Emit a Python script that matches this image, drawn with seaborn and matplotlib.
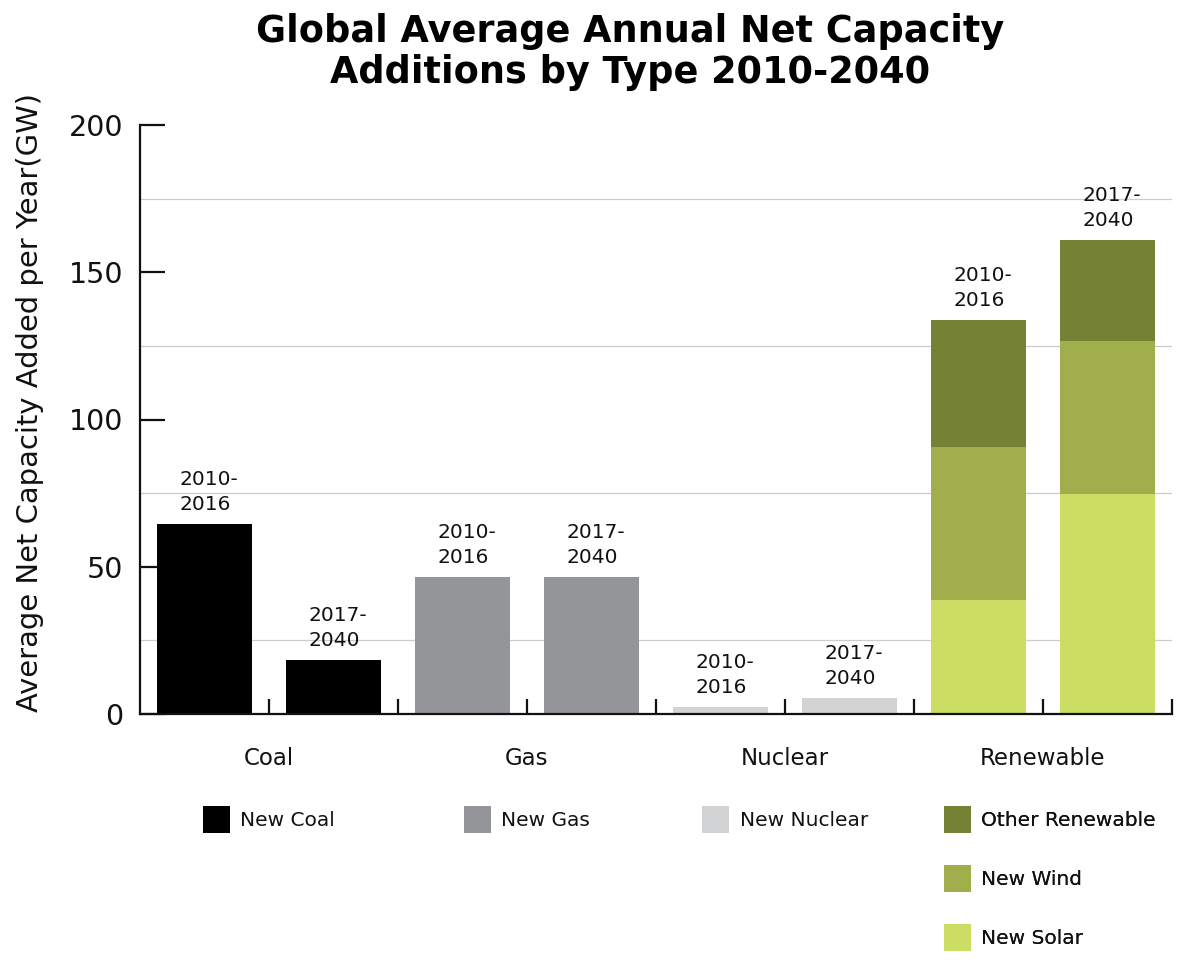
import numpy as np
import pandas as pd
import matplotlib
matplotlib.use("Agg")
import matplotlib.pyplot as plt
import matplotlib.transforms as mtransforms
from matplotlib.patches import Patch
from matplotlib.ticker import FixedLocator
import seaborn as sns

# ---------------- data ----------------
categories = ["Coal", "Gas", "Nuclear", "Renewable"]
periods = ["2010-2016", "2017-2040"]
period_labels = ["2010-\n2016", "2017-\n2040"]
coal_values = [64.5, 18.3]
gas_values = [46.5, 46.5]
nuclear_values = [2.4, 5.4]
solar_values = [38.7, 74.7]
wind_values = [52.0, 52.0]
other_renewable_values = [43.1, 34.3]
y_ticks = [0, 50, 100, 150, 200]
grid_levels = [25, 75, 125, 175]
title = "Global Average Annual Net Capacity\nAdditions by Type 2010-2040"
y_label = "Average Net Capacity Added per Year(GW)"

colors = {
    "New Coal": "#000000",
    "New Gas": "#939598",
    "New Nuclear": "#d1d3d4",
    "Other Renewable": "#758236",
    "New Wind": "#a0ae4c",
    "New Solar": "#cbdd63",
}
legend_groups = [
    ("Coal", ["New Coal"]),
    ("Gas", ["New Gas"]),
    ("Nuclear", ["New Nuclear"]),
    ("Renewable", ["Other Renewable", "New Wind", "New Solar"]),
]
legend_shift_px = [0, 0, 0, 7]

# ---------------- style ----------------
sns.set_style("white")
plt.rcParams["font.family"] = ["DejaVu Sans"]

fig = plt.figure(figsize=(12, 9.68), dpi=100)
ax = fig.add_axes([140 / 1200, 1 - 714 / 968, 1032 / 1200, 589 / 968])

# stacked renewable: cumulative heights, drawn tallest first
ren_stack = np.cumsum(np.array([solar_values, wind_values, other_renewable_values]), axis=0)
layers = [
    ("Coal", "New Coal", coal_values),
    ("Gas", "New Gas", gas_values),
    ("Nuclear", "New Nuclear", nuclear_values),
    ("Renewable", "Other Renewable", ren_stack[2]),
    ("Renewable", "New Wind", ren_stack[1]),
    ("Renewable", "New Solar", ren_stack[0]),
]

top_containers = {}
for cat, series, vals in layers:
    df = pd.DataFrame({"category": cat, "period": periods, "value": list(vals)})
    n0 = len(ax.containers)
    c = colors[series]
    sns.barplot(data=df, x="category", y="value", hue="period",
                order=categories, hue_order=periods, palette=[c, c],
                width=1.0, gap=0.264, errorbar=None, saturation=1,
                linewidth=0, legend=False, ax=ax, zorder=3)
    if cat not in top_containers:
        top_containers[cat] = ax.containers[n0:]

# bar labels above the top of each column
for cat, conts in top_containers.items():
    for i, cont in enumerate(conts):
        for bar in cont:
            ax.annotate(period_labels[i],
                        (bar.get_x() + bar.get_width() / 2, bar.get_height()),
                        xytext=(3, 7), textcoords="offset points",
                        ha="center", va="bottom", multialignment="left",
                        fontsize=14.5, linespacing=1.4, color="#111111")

# ---------------- axes ----------------
ax.set_xlim(-0.5, 3.5)
ax.set_ylim(0, 200)
ax.set_xlabel("")
ax.set_ylabel(y_label, fontsize=20.9, va="center", ha="center", color="#111111")
ax.yaxis.set_label_coords(30 / 1200, 1 - 403 / 968, transform=fig.transFigure)

ax.set_yticks(y_ticks)
ax.set_yticklabels([str(t) for t in y_ticks])
ax.yaxis.set_minor_locator(FixedLocator(grid_levels))
ax.tick_params(axis="y", which="major", direction="in", length=18, width=1.6,
               labelsize=20.5, pad=12, colors="#111111", left=True)
ax.tick_params(axis="y", which="minor", length=0, left=False)
ax.grid(False)
ax.grid(axis="y", which="minor", color="#cccccc", linewidth=0.9, zorder=0)
ax.set_axisbelow(True)

ax.set_xticks(range(len(categories)))
ax.set_xticklabels(categories)
ax.xaxis.set_minor_locator(FixedLocator([0.5, 1.5, 2.5, 3.5]))
ax.tick_params(axis="x", which="both", direction="in", length=11, width=1.6,
               labelsize=16.5, pad=24, colors="#111111", bottom=True)

for side in ["top", "right"]:
    ax.spines[side].set_visible(False)
for side in ["left", "bottom"]:
    ax.spines[side].set_visible(True)
    ax.spines[side].set_linewidth(1.6)
    ax.spines[side].set_color("#111111")
    ax.spines[side].set_zorder(5)

# ---------------- title ----------------
fig.text(630 / 1200, 1 - 52 / 968, title, ha="center", va="center",
         fontsize=26.4, fontweight="bold", linespacing=1.15, color="#000000")

# ---------------- legend: one block under each category ----------------
blend = mtransforms.blended_transform_factory(ax.transData, fig.transFigure)
for gi, (cat, names) in enumerate(legend_groups):
    handles = [Patch(facecolor=colors[n], edgecolor="none") for n in names]
    shift = mtransforms.ScaledTranslation(legend_shift_px[gi] / 100, 0, fig.dpi_scale_trans)
    leg = ax.legend(handles, names, loc="upper center",
                    bbox_to_anchor=(categories.index(cat), 1 - 806 / 968),
                    bbox_transform=blend + shift, frameon=False, fontsize=14.5,
                    handlelength=1.35, handleheight=1.69, handletextpad=0.5,
                    labelspacing=1.58, borderpad=0, borderaxespad=0)
    for t in leg.get_texts():
        t.set_color("#111111")
    ax.add_artist(leg)

fig.savefig("out.png", dpi=100)
